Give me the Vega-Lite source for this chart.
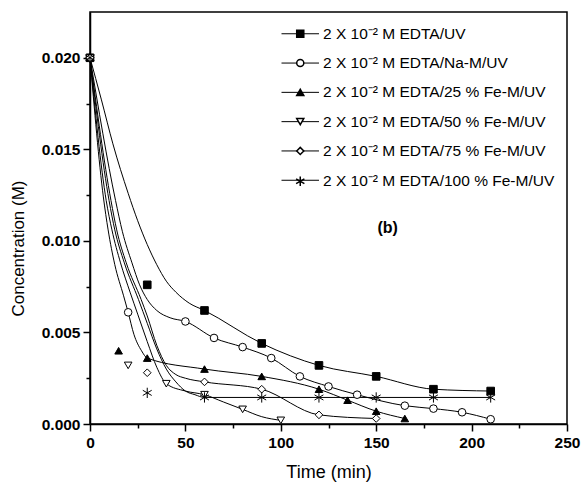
{
  "$schema": "https://vega.github.io/schema/vega-lite/v6.json",
  "width": 477,
  "height": 412,
  "autosize": "none",
  "padding": {"left": 90, "top": 12, "right": 15, "bottom": 65},
  "background": "white",
  "config": {
    "view": {"stroke": "black", "strokeWidth": 1.5},
    "font": "Liberation Sans",
    "axis": {"grid": false, "domainColor": "black", "domainWidth": 1.5, "tickColor": "black", "tickWidth": 1.5, "labelColor": "black", "titleColor": "black", "labelFont": "Liberation Sans", "labelFontWeight": "bold", "labelFontSize": 15.5, "titleFont": "Liberation Sans", "titleFontWeight": "normal", "titleFontSize": 17, "labelOverlap": false, "labelFlush": false}
  },
  "datasets": {
    "pts": [
      {"series": "2 X 10⁻² M EDTA/UV", "t": 0, "c": 0.020},
      {"series": "2 X 10⁻² M EDTA/UV", "t": 30, "c": 0.0076},
      {"series": "2 X 10⁻² M EDTA/UV", "t": 60, "c": 0.0062},
      {"series": "2 X 10⁻² M EDTA/UV", "t": 90, "c": 0.0044},
      {"series": "2 X 10⁻² M EDTA/UV", "t": 120, "c": 0.0032},
      {"series": "2 X 10⁻² M EDTA/UV", "t": 150, "c": 0.0026},
      {"series": "2 X 10⁻² M EDTA/UV", "t": 180, "c": 0.0019},
      {"series": "2 X 10⁻² M EDTA/UV", "t": 210, "c": 0.0018},
      {"series": "2 X 10⁻² M EDTA/Na-M/UV", "t": 0, "c": 0.020},
      {"series": "2 X 10⁻² M EDTA/Na-M/UV", "t": 20, "c": 0.0061},
      {"series": "2 X 10⁻² M EDTA/Na-M/UV", "t": 50, "c": 0.0056},
      {"series": "2 X 10⁻² M EDTA/Na-M/UV", "t": 65, "c": 0.0047},
      {"series": "2 X 10⁻² M EDTA/Na-M/UV", "t": 80, "c": 0.0042},
      {"series": "2 X 10⁻² M EDTA/Na-M/UV", "t": 95, "c": 0.0036},
      {"series": "2 X 10⁻² M EDTA/Na-M/UV", "t": 110, "c": 0.0026},
      {"series": "2 X 10⁻² M EDTA/Na-M/UV", "t": 125, "c": 0.00205},
      {"series": "2 X 10⁻² M EDTA/Na-M/UV", "t": 140, "c": 0.0016},
      {"series": "2 X 10⁻² M EDTA/Na-M/UV", "t": 165, "c": 0.0010},
      {"series": "2 X 10⁻² M EDTA/Na-M/UV", "t": 180, "c": 0.00084},
      {"series": "2 X 10⁻² M EDTA/Na-M/UV", "t": 195, "c": 0.00064},
      {"series": "2 X 10⁻² M EDTA/Na-M/UV", "t": 210, "c": 0.00026},
      {"series": "2 X 10⁻² M EDTA/25 % Fe-M/UV", "t": 0, "c": 0.020},
      {"series": "2 X 10⁻² M EDTA/25 % Fe-M/UV", "t": 15, "c": 0.0040},
      {"series": "2 X 10⁻² M EDTA/25 % Fe-M/UV", "t": 30, "c": 0.0036},
      {"series": "2 X 10⁻² M EDTA/25 % Fe-M/UV", "t": 60, "c": 0.0030},
      {"series": "2 X 10⁻² M EDTA/25 % Fe-M/UV", "t": 90, "c": 0.0026},
      {"series": "2 X 10⁻² M EDTA/25 % Fe-M/UV", "t": 120, "c": 0.0019},
      {"series": "2 X 10⁻² M EDTA/25 % Fe-M/UV", "t": 135, "c": 0.0013},
      {"series": "2 X 10⁻² M EDTA/25 % Fe-M/UV", "t": 150, "c": 0.0007},
      {"series": "2 X 10⁻² M EDTA/25 % Fe-M/UV", "t": 165, "c": 0.0003},
      {"series": "2 X 10⁻² M EDTA/50 % Fe-M/UV", "t": 0, "c": 0.020},
      {"series": "2 X 10⁻² M EDTA/50 % Fe-M/UV", "t": 20, "c": 0.0032},
      {"series": "2 X 10⁻² M EDTA/50 % Fe-M/UV", "t": 40, "c": 0.0022},
      {"series": "2 X 10⁻² M EDTA/50 % Fe-M/UV", "t": 60, "c": 0.0016},
      {"series": "2 X 10⁻² M EDTA/50 % Fe-M/UV", "t": 80, "c": 0.0008},
      {"series": "2 X 10⁻² M EDTA/50 % Fe-M/UV", "t": 100, "c": 0.0002},
      {"series": "2 X 10⁻² M EDTA/75 % Fe-M/UV", "t": 0, "c": 0.020},
      {"series": "2 X 10⁻² M EDTA/75 % Fe-M/UV", "t": 30, "c": 0.0028},
      {"series": "2 X 10⁻² M EDTA/75 % Fe-M/UV", "t": 60, "c": 0.0023},
      {"series": "2 X 10⁻² M EDTA/75 % Fe-M/UV", "t": 90, "c": 0.0019},
      {"series": "2 X 10⁻² M EDTA/75 % Fe-M/UV", "t": 120, "c": 0.0005},
      {"series": "2 X 10⁻² M EDTA/75 % Fe-M/UV", "t": 150, "c": 0.0003},
      {"series": "2 X 10⁻² M EDTA/100 % Fe-M/UV", "t": 0, "c": 0.020},
      {"series": "2 X 10⁻² M EDTA/100 % Fe-M/UV", "t": 30, "c": 0.0017},
      {"series": "2 X 10⁻² M EDTA/100 % Fe-M/UV", "t": 60, "c": 0.00145},
      {"series": "2 X 10⁻² M EDTA/100 % Fe-M/UV", "t": 90, "c": 0.00145},
      {"series": "2 X 10⁻² M EDTA/100 % Fe-M/UV", "t": 120, "c": 0.00145},
      {"series": "2 X 10⁻² M EDTA/100 % Fe-M/UV", "t": 150, "c": 0.00145},
      {"series": "2 X 10⁻² M EDTA/100 % Fe-M/UV", "t": 180, "c": 0.00145},
      {"series": "2 X 10⁻² M EDTA/100 % Fe-M/UV", "t": 210, "c": 0.00145}
    ],
    "curves": [
      {"curve": "S", "t": 0, "c": 0.020}, {"curve": "S", "t": 6, "c": 0.0177}, {"curve": "S", "t": 12, "c": 0.0153}, {"curve": "S", "t": 20, "c": 0.0126}, {"curve": "S", "t": 25, "c": 0.0111}, {"curve": "S", "t": 30, "c": 0.0098}, {"curve": "S", "t": 35, "c": 0.0087}, {"curve": "S", "t": 40, "c": 0.0078}, {"curve": "S", "t": 45, "c": 0.0072}, {"curve": "S", "t": 52, "c": 0.0066}, {"curve": "S", "t": 60, "c": 0.0062}, {"curve": "S", "t": 90, "c": 0.0044}, {"curve": "S", "t": 120, "c": 0.0032}, {"curve": "S", "t": 150, "c": 0.0026}, {"curve": "S", "t": 180, "c": 0.0019}, {"curve": "S", "t": 210, "c": 0.0018},
      {"curve": "C", "t": 0, "c": 0.020}, {"curve": "C", "t": 13.4, "c": 0.0122}, {"curve": "C", "t": 17, "c": 0.0105}, {"curve": "C", "t": 22, "c": 0.0088}, {"curve": "C", "t": 26, "c": 0.0076}, {"curve": "C", "t": 30, "c": 0.0068}, {"curve": "C", "t": 35, "c": 0.0062}, {"curve": "C", "t": 42, "c": 0.0058}, {"curve": "C", "t": 50, "c": 0.0056}, {"curve": "C", "t": 65, "c": 0.0047}, {"curve": "C", "t": 80, "c": 0.0042}, {"curve": "C", "t": 95, "c": 0.0036}, {"curve": "C", "t": 110, "c": 0.0026}, {"curve": "C", "t": 125, "c": 0.00205}, {"curve": "C", "t": 140, "c": 0.0016}, {"curve": "C", "t": 165, "c": 0.0010}, {"curve": "C", "t": 180, "c": 0.00084}, {"curve": "C", "t": 195, "c": 0.00064}, {"curve": "C", "t": 210, "c": 0.00026},
      {"curve": "TU", "t": 0, "c": 0.020}, {"curve": "TU", "t": 7, "c": 0.0124}, {"curve": "TU", "t": 9.5, "c": 0.0106}, {"curve": "TU", "t": 13, "c": 0.0087}, {"curve": "TU", "t": 17.6, "c": 0.0070}, {"curve": "TU", "t": 20, "c": 0.0061}, {"curve": "TU", "t": 23, "c": 0.0049}, {"curve": "TU", "t": 27, "c": 0.0040}, {"curve": "TU", "t": 30, "c": 0.0036}, {"curve": "TU", "t": 60, "c": 0.0030}, {"curve": "TU", "t": 90, "c": 0.0026}, {"curve": "TU", "t": 120, "c": 0.0019}, {"curve": "TU", "t": 135, "c": 0.0013}, {"curve": "TU", "t": 150, "c": 0.0007}, {"curve": "TU", "t": 165, "c": 0.0003},
      {"curve": "N", "t": 0, "c": 0.020}, {"curve": "N", "t": 8.5, "c": 0.0122}, {"curve": "N", "t": 11.5, "c": 0.0106}, {"curve": "N", "t": 16, "c": 0.0088}, {"curve": "N", "t": 21, "c": 0.0072}, {"curve": "N", "t": 25, "c": 0.0060}, {"curve": "N", "t": 30, "c": 0.0045}, {"curve": "N", "t": 35, "c": 0.0031}, {"curve": "N", "t": 40, "c": 0.0022}, {"curve": "N", "t": 50, "c": 0.0018}, {"curve": "N", "t": 60, "c": 0.0016}, {"curve": "N", "t": 70, "c": 0.0012}, {"curve": "N", "t": 80, "c": 0.0008}, {"curve": "N", "t": 90, "c": 0.0004}, {"curve": "N", "t": 100, "c": 0.0002},
      {"curve": "X", "t": 0, "c": 0.020}, {"curve": "X", "t": 10, "c": 0.0122}, {"curve": "X", "t": 13, "c": 0.0106}, {"curve": "X", "t": 18, "c": 0.0088}, {"curve": "X", "t": 25.4, "c": 0.0068}, {"curve": "X", "t": 30, "c": 0.0055}, {"curve": "X", "t": 35, "c": 0.0041}, {"curve": "X", "t": 40, "c": 0.0030}, {"curve": "X", "t": 45, "c": 0.0023}, {"curve": "X", "t": 50, "c": 0.0018}, {"curve": "X", "t": 55, "c": 0.0016}, {"curve": "X", "t": 60, "c": 0.00145}, {"curve": "X", "t": 90, "c": 0.00145}, {"curve": "X", "t": 120, "c": 0.00145}, {"curve": "X", "t": 150, "c": 0.00145}, {"curve": "X", "t": 180, "c": 0.00145}, {"curve": "X", "t": 210, "c": 0.00145},
      {"curve": "D", "t": 0, "c": 0.020}, {"curve": "D", "t": 11, "c": 0.0122}, {"curve": "D", "t": 14, "c": 0.0106}, {"curve": "D", "t": 19, "c": 0.0088}, {"curve": "D", "t": 26.8, "c": 0.0068}, {"curve": "D", "t": 30, "c": 0.0059}, {"curve": "D", "t": 35, "c": 0.0043}, {"curve": "D", "t": 40, "c": 0.0032}, {"curve": "D", "t": 45, "c": 0.0027}, {"curve": "D", "t": 50, "c": 0.0025}, {"curve": "D", "t": 60, "c": 0.0023}, {"curve": "D", "t": 90, "c": 0.0019}, {"curve": "D", "t": 120, "c": 0.0005}, {"curve": "D", "t": 150, "c": 0.0003}
    ]
  },
  "layer": [
    {
      "data": {"name": "curves"},
      "mark": {"type": "line", "interpolate": "monotone", "strokeWidth": 1, "clip": true},
      "encoding": {
        "x": {"field": "t", "type": "quantitative", "scale": {"domain": [0, 250], "nice": false, "zero": false},
          "axis": {"title": "Time (min)", "titleFontSize": 18, "values": [0, 25, 50, 75, 100, 125, 150, 175, 200, 225, 250],
            "labelExpr": "datum.value % 50 === 0 ? datum.label : ''",
            "tickSize": {"condition": {"test": "datum.value % 50 !== 0", "value": 4}, "value": 7},
            "labelPadding": 4, "titlePadding": 13}},
        "y": {"field": "c", "type": "quantitative", "scale": {"domain": [0, 0.0225], "nice": false, "zero": false},
          "axis": {"title": "Concentration (M)", "values": [0, 0.0025, 0.005, 0.0075, 0.01, 0.0125, 0.015, 0.0175, 0.02],
            "labelExpr": "round(datum.value * 10000) % 50 === 0 ? format(datum.value, '.3f') : ''",
            "tickSize": {"condition": {"test": "round(datum.value * 10000) % 50 !== 0", "value": 4}, "value": 7},
            "labelPadding": 3, "titleX": -72, "titleY": 236, "titleAlign": "center", "titleBaseline": "middle", "titleAngle": 270}},
        "stroke": {"field": "curve", "type": "nominal",
          "scale": {"domain": ["S", "C", "TU", "N", "D", "X"], "range": ["black", "black", "black", "black", "black", "black"]},
          "legend": {
            "orient": "none", "legendX": 202.5, "legendY": 14, "title": null, "padding": 0,
            "labelFont": "Liberation Sans", "labelFontSize": 15.5, "labelExpr": "' '",
            "symbolType": "M-5.3,0H5.3", "symbolSize": 50, "symbolStrokeWidth": 1, "symbolStrokeColor": "black",
            "labelOffset": 15, "rowPadding": 12.3
          }}
      }
    },
    {
      "data": {"name": "pts"},
      "mark": {"type": "point", "filled": true, "opacity": 1, "stroke": "black", "strokeWidth": 1, "size": 58},
      "encoding": {
        "x": {"field": "t", "type": "quantitative"},
        "y": {"field": "c", "type": "quantitative"},
        "shape": {"field": "series", "type": "nominal",
          "scale": {"domain": ["2 X 10⁻² M EDTA/UV", "2 X 10⁻² M EDTA/Na-M/UV", "2 X 10⁻² M EDTA/25 % Fe-M/UV", "2 X 10⁻² M EDTA/50 % Fe-M/UV", "2 X 10⁻² M EDTA/75 % Fe-M/UV", "2 X 10⁻² M EDTA/100 % Fe-M/UV"],
            "range": ["square", "circle", "triangle-up", "triangle-down", "diamond", "M0,-1.35V1.35M-1.17,-0.68L1.17,0.68M-1.17,0.68L1.17,-0.68"]},
          "legend": {
            "orient": "none", "legendX": 202.5, "legendY": 14, "title": null, "padding": 0,
            "labelFont": "Liberation Sans", "labelFontSize": 15.5, "labelColor": "black", "labelLimit": 400,
            "symbolSize": 50, "labelOffset": 15, "rowPadding": 12.3,
            "encode": {"symbols": {"update": {
              "fill": {"signal": "['black','white','black','white','white','white'][indexof(domain('shape'), datum.value)]"},
              "stroke": {"value": "black"},
              "strokeWidth": {"value": 1},
              "opacity": {"value": 1}
            }}}
          }},
        "fill": {"field": "series", "type": "nominal",
          "scale": {"domain": ["2 X 10⁻² M EDTA/UV", "2 X 10⁻² M EDTA/Na-M/UV", "2 X 10⁻² M EDTA/25 % Fe-M/UV", "2 X 10⁻² M EDTA/50 % Fe-M/UV", "2 X 10⁻² M EDTA/75 % Fe-M/UV", "2 X 10⁻² M EDTA/100 % Fe-M/UV"],
            "range": ["black", "white", "black", "white", "white", "white"]},
          "legend": null}
      }
    },
    {
      "data": {"values": [{"label": "(b)"}]},
      "mark": {"type": "text", "font": "Liberation Sans", "fontWeight": "bold", "fontSize": 16, "color": "black"},
      "encoding": {
        "x": {"datum": 156},
        "y": {"datum": 0.0107},
        "text": {"field": "label"}
      }
    }
  ]
}
